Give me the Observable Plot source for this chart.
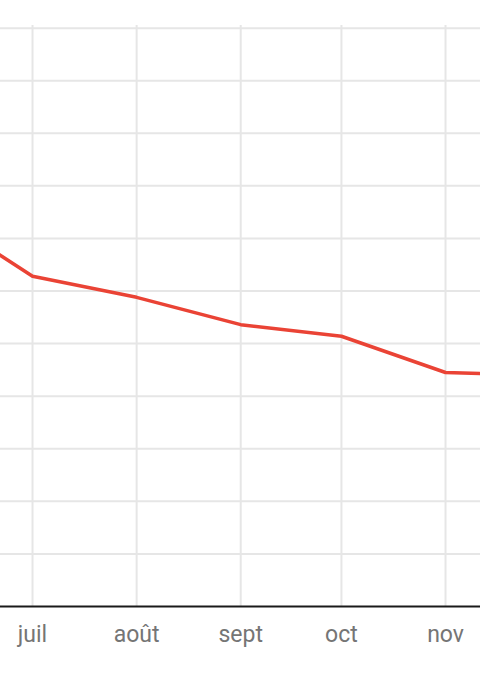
<!DOCTYPE html>
<html>
<head>
<meta charset="utf-8">
<script src="https://cdn.jsdelivr.net/npm/d3@7"></script>
<script src="https://cdn.jsdelivr.net/npm/@observablehq/plot@0.6"></script>
<style>
  html, body { margin: 0; padding: 0; background: #fff; }
  #chart svg { display: block; }
</style>
</head>
<body>
<div id="chart"></div>
<script>
// Data (monthly values, arbitrary units)
const monthDates = ["2023-06-01", "2023-07-01", "2023-08-01", "2023-09-01", "2023-10-01", "2023-11-01", "2023-12-01"];
const values = [75.3, 62.8, 58.8, 53.6, 51.4, 44.5, 43.9];
const tickDates = ["2023-07-01", "2023-08-01", "2023-09-01", "2023-10-01", "2023-11-01"];
const tickLabels = ["juil", "août", "sept", "oct", "nov"];
const yGrid = [10, 20, 30, 40, 50, 60, 70, 80, 90, 100, 110];

const data = monthDates.map((d, i) => ({date: new Date(d + "T00:00:00Z"), value: values[i]}));
const ticks = tickDates.map(d => new Date(d + "T00:00:00Z"));
const labelOf = new Map(ticks.map((t, i) => [+t, tickLabels[i]]));

const chart = Plot.plot({
  width: 480,
  height: 686,
  marginTop: 25,
  marginBottom: 80,
  marginLeft: 0,
  marginRight: 0,
  style: {fontFamily: "Roboto, sans-serif", background: "#fff"},
  x: {type: "utc", domain: [new Date("2023-06-21T11:00:00Z"), new Date("2023-11-11T10:00:00Z")]},
  y: {domain: [0, 110.5], axis: null},
  marks: [
    Plot.ruleY(yGrid, {stroke: "#e6e6e6", strokeWidth: 2, strokeOpacity: 1}),
    Plot.ruleX(ticks, {stroke: "#e6e6e6", strokeWidth: 2, strokeOpacity: 1}),
    Plot.line(data, {x: "date", y: "value", stroke: "#ea4335", strokeWidth: 3.5, clip: true}),
    Plot.ruleY([0], {stroke: "#1a1a1a", strokeWidth: 2}),
    Plot.axisX(ticks, {
      tickSize: 0,
      tickPadding: 19,
      fontSize: 23,
      fill: "#757575",
      tickFormat: d => labelOf.get(+d)
    })
  ]
});
document.getElementById("chart").appendChild(chart);
</script>
</body>
</html>
